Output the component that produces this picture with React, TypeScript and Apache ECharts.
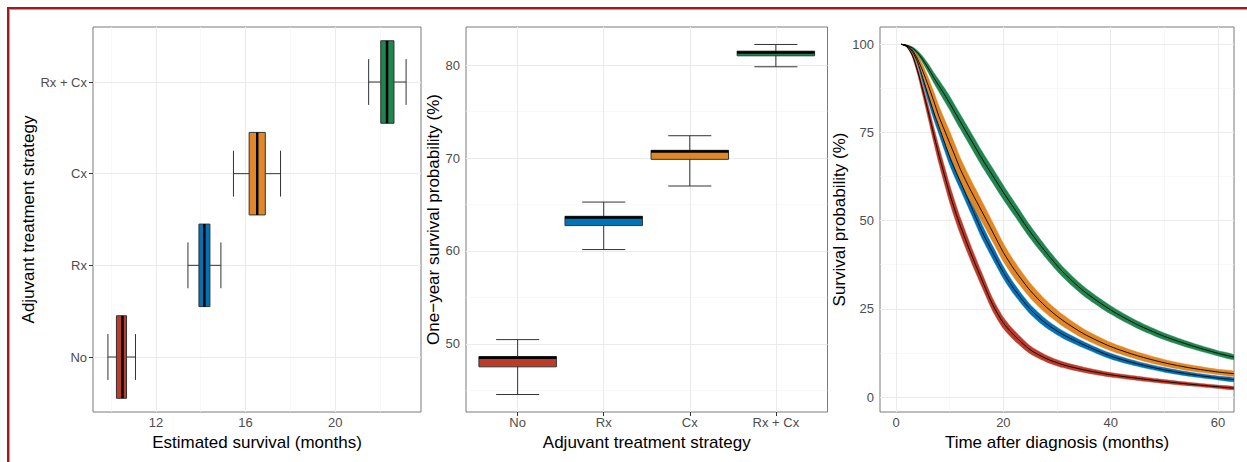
import React, { useEffect, useRef } from "react";
import * as echarts from "echarts";

// ---------- data ----------
const strategies = ["No", "Rx", "Cx", "Rx + Cx"];
const palette = ["#BC3C29", "#0072B5", "#E18727", "#20854E"];

// Estimated survival (months) box summaries
const survMin = [9.86, 13.43, 15.46, 21.49];
const survQ1 = [10.24, 13.92, 16.16, 22.03];
const survMed = [10.51, 14.16, 16.52, 22.31];
const survQ3 = [10.69, 14.41, 16.88, 22.62];
const survMax = [11.09, 14.9, 17.56, 23.16];

// One-year survival probability (%) box summaries
const oneMin = [44.55, 60.15, 66.99, 79.82];
const oneQ1 = [47.53, 62.73, 69.86, 81.0];
const oneMed = [48.5, 63.6, 70.7, 81.35];
const oneQ3 = [48.64, 63.73, 70.83, 81.5];
const oneMax = [50.46, 65.26, 72.4, 82.22];

// Survival curves (%)
const months = [1, 2, 3, 4, 5, 6, 7, 8, 9, 10, 11, 12, 14, 16, 18, 20, 22, 25, 28, 31, 35, 40, 45, 50, 55, 60, 63];
const curveNo = [100, 99.3, 97, 92.5, 86.8, 80.8, 74.5, 68.5, 63, 57.6, 52.8, 48.4, 40.5, 33.2, 26.2, 21, 17.5, 13.4, 10.9, 9.2, 7.7, 6.3, 5.3, 4.4, 3.6, 2.9, 2.5];
const curveRx = [100, 99.5, 98, 95, 90.3, 85.5, 80.8, 76.6, 72.3, 68, 64.4, 61, 54, 47, 41, 35.3, 30.6, 24.9, 20.8, 17.8, 14.8, 11.6, 9.4, 7.7, 6.4, 5.4, 4.9];
const curveCx = [100, 99.6, 98.4, 95.8, 92.3, 88.3, 84, 79.5, 75.7, 72, 68.3, 64.5, 58.3, 52.6, 46.8, 41, 36.2, 30.2, 25.5, 21.8, 17.9, 14.3, 11.7, 9.7, 8.2, 7.1, 6.6];
const curveRxCx = [100, 99.7, 99, 97.6, 95.6, 93.2, 90.6, 88.2, 85.8, 83.3, 80.6, 78, 72.8, 67.6, 62.8, 58, 53.5, 46.8, 40.9, 35.6, 30, 24.7, 20.5, 17.2, 14.6, 12.4, 11.3];
// confidence band widths (% points)
const bandNo = [0, 0.3, 1, 2, 3, 3.9, 4.5, 4.9, 5.1, 5.1, 5, 4.8, 4.4, 4, 3.6, 3.2, 2.8, 2.3, 1.9, 1.7, 1.5, 1.3, 1.2, 1.1, 1, 0.95, 0.9];
const bandRx = [0, 0.3, 1, 1.9, 2.8, 3.5, 4, 4.3, 4.5, 4.6, 4.6, 4.5, 4.3, 4, 3.7, 3.4, 3.1, 2.7, 2.4, 2.1, 1.8, 1.6, 1.4, 1.3, 1.2, 1.1, 1.1];
const bandCx = [0, 0.4, 1.2, 2.4, 3.6, 4.6, 5.4, 6, 6.4, 6.6, 6.6, 6.5, 6.3, 6, 5.6, 5.2, 4.8, 4.2, 3.7, 3.3, 2.8, 2.4, 2.1, 1.9, 1.7, 1.5, 1.4];
const bandRxCx = [0, 0.2, 0.6, 1.2, 1.9, 2.5, 3, 3.4, 3.7, 3.9, 4.1, 4.2, 4.3, 4.3, 4.2, 4.1, 3.9, 3.6, 3.3, 3, 2.7, 2.4, 2.1, 1.9, 1.7, 1.5, 1.4];

// ticks
const survTicks = [12, 16, 20];
const survMinor = [10, 14, 18, 22];
const oneTicks = [50, 60, 70, 80];
const oneMinor = [45, 55, 65, 75];
const timeTicks = [0, 20, 40, 60];
const timeMinor = [10, 30, 50];
const probTicks = [0, 25, 50, 75, 100];
const probMinor = [12.5, 37.5, 62.5, 87.5];
const catPos = [0, 1, 2, 3];

// ---------- helpers ----------
const FONT = "'Liberation Sans', Arial, Helvetica, sans-serif";
const MAJOR = "#ebebeb";
const MINOR = "#f4f4f4";
const SMOOTH = 0.25;

function gridLines(xMajor: number[], xMinor: number[], yMajor: number[], yMinor: number[]) {
  const d: any[] = [];
  xMinor.forEach((v) => d.push({ xAxis: v, lineStyle: { color: MINOR, width: 0.6, type: "solid" } }));
  yMinor.forEach((v) => d.push({ yAxis: v, lineStyle: { color: MINOR, width: 0.6, type: "solid" } }));
  xMajor.forEach((v) => d.push({ xAxis: v, lineStyle: { color: MAJOR, width: 1, type: "solid" } }));
  yMajor.forEach((v) => d.push({ yAxis: v, lineStyle: { color: MAJOR, width: 1, type: "solid" } }));
  return {
    silent: true,
    symbol: ["none", "none"],
    label: { show: false },
    emphasis: { disabled: true },
    z: 1,
    data: d,
  };
}

function valueAxis(idx: number, min: number, max: number, ticks: number[], name: string, nameGap: number, isY: boolean, fmt?: (v: number) => string) {
  return {
    type: "value",
    gridIndex: idx,
    min,
    max,
    axisLine: { show: false },
    axisTick: { show: true, length: 4, customValues: ticks, lineStyle: { color: "#333333", width: 1 } },
    axisLabel: {
      customValues: ticks,
      color: "#4d4d4d",
      fontSize: 13,
      fontFamily: FONT,
      margin: isY ? 6 : 4,
      formatter: fmt,
      showMinLabel: true,
      showMaxLabel: true,
    },
    splitLine: { show: false },
    name,
    nameLocation: "middle",
    nameGap,
    nameRotate: isY ? 90 : 0,
    nameTextStyle: { fontSize: 17, color: "#000000", fontFamily: FONT },
  };
}

const catFmt = (v: number) => strategies[Math.round(v)] ?? "";

function boxRender(horizontal: boolean) {
  return (params: any, api: any) => {
    const c = api.value(0);
    const mn = api.value(1), q1 = api.value(2), md = api.value(3), q3 = api.value(4), mx = api.value(5);
    const color = palette[params.dataIndex];
    const stroke = "#333333";
    if (horizontal) {
      const band = api.size([0, 1])[1];
      const yc = api.coord([md, c])[1];
      const px = (v: number) => api.coord([v, c])[0];
      const hb = band * 0.45, hw = band * 0.25;
      return {
        type: "group",
        children: [
          { type: "line", shape: { x1: px(mn), y1: yc, x2: px(mx), y2: yc }, style: { stroke, lineWidth: 1 } },
          { type: "line", shape: { x1: px(mn), y1: yc - hw, x2: px(mn), y2: yc + hw }, style: { stroke, lineWidth: 1 } },
          { type: "line", shape: { x1: px(mx), y1: yc - hw, x2: px(mx), y2: yc + hw }, style: { stroke, lineWidth: 1 } },
          { type: "rect", shape: { x: px(q1), y: yc - hb, width: px(q3) - px(q1), height: 2 * hb }, style: { fill: color, stroke, lineWidth: 1 } },
          { type: "line", shape: { x1: px(md), y1: yc - hb, x2: px(md), y2: yc + hb }, style: { stroke: "#000000", lineWidth: 2.5 } },
        ],
      };
    }
    const band = api.size([1, 0])[0];
    const xc = api.coord([c, md])[0];
    const py = (v: number) => api.coord([c, v])[1];
    const hb = band * 0.45, hw = band * 0.25;
    return {
      type: "group",
      children: [
        { type: "line", shape: { x1: xc, y1: py(mn), x2: xc, y2: py(mx) }, style: { stroke, lineWidth: 1 } },
        { type: "line", shape: { x1: xc - hw, y1: py(mn), x2: xc + hw, y2: py(mn) }, style: { stroke, lineWidth: 1 } },
        { type: "line", shape: { x1: xc - hw, y1: py(mx), x2: xc + hw, y2: py(mx) }, style: { stroke, lineWidth: 1 } },
        { type: "rect", shape: { x: xc - hb, y: py(q3), width: 2 * hb, height: py(q1) - py(q3) }, style: { fill: color, stroke, lineWidth: 1 } },
        { type: "line", shape: { x1: xc - hb, y1: py(md), x2: xc + hb, y2: py(md) }, style: { stroke: "#000000", lineWidth: 2.5 } },
      ],
    };
  };
}

const curves = [curveNo, curveRx, curveCx, curveRxCx];
const bands = [bandNo, bandRx, bandCx, bandRxCx];

function ribbonRender(params: any, api: any) {
  const i = params.dataIndex;
  const cv = curves[i];
  const bw = bands[i];
  const upper = months.map((t, j) => api.coord([t, cv[j] + bw[j] / 2]));
  const lower = months.map((t, j) => api.coord([t, cv[j] - bw[j] / 2])).reverse();
  return {
    type: "group",
    children: [
      {
        type: "polygon",
        shape: { points: upper.concat(lower), smooth: SMOOTH },
        style: { fill: palette[i], stroke: palette[i], lineWidth: 0.4 },
      },
      {
        type: "polyline",
        shape: { points: months.map((t, j) => api.coord([t, cv[j]])), smooth: SMOOTH },
        style: { stroke: "#000000", lineWidth: 0.9, fill: null },
        z2: 10,
      },
    ],
  };
}

function buildOption() {
  const survData = strategies.map((_, i) => [i, survMin[i], survQ1[i], survMed[i], survQ3[i], survMax[i]]);
  const oneData = strategies.map((_, i) => [i, oneMin[i], oneQ1[i], oneMed[i], oneQ3[i], oneMax[i]]);
  const ribbonData = curves.map((cv) => [months[0], cv[0]]);

  const series: any[] = [
    {
      type: "line", xAxisIndex: 0, yAxisIndex: 0, data: [], silent: true, z: 1,
      markLine: gridLines(survTicks, survMinor, catPos, []),
    },
    {
      type: "line", xAxisIndex: 1, yAxisIndex: 1, data: [], silent: true, z: 1,
      markLine: gridLines(catPos, [], oneTicks, oneMinor),
    },
    {
      type: "line", xAxisIndex: 2, yAxisIndex: 2, data: [], silent: true, z: 1,
      markLine: gridLines(timeTicks, timeMinor, probTicks, probMinor),
    },
    {
      type: "custom", xAxisIndex: 0, yAxisIndex: 0, z: 3, silent: true,
      renderItem: boxRender(true),
      encode: { x: [1, 2, 3, 4, 5], y: 0 },
      data: survData,
    },
    {
      type: "custom", xAxisIndex: 1, yAxisIndex: 1, z: 3, silent: true,
      renderItem: boxRender(false),
      encode: { x: 0, y: [1, 2, 3, 4, 5] },
      data: oneData,
    },
    {
      type: "custom", xAxisIndex: 2, yAxisIndex: 2, z: 2, silent: true, clip: true,
      renderItem: ribbonRender,
      encode: { x: 0, y: 1 },
      data: ribbonData,
    },
  ];

  const gridBase = { show: true, borderColor: "#7a7a7a", borderWidth: 1, backgroundColor: "transparent", containLabel: false };

  return {
    animation: false,
    textStyle: { fontFamily: FONT },
    grid: [
      { ...gridBase, left: 93, top: 27, width: 328, height: 385 },
      { ...gridBase, left: 466, top: 27, width: 361.5, height: 385 },
      { ...gridBase, left: 880, top: 27, width: 354, height: 385 },
    ],
    xAxis: [
      valueAxis(0, 9.195, 23.825, survTicks, "Estimated survival (months)", 12, false),
      valueAxis(1, -0.6, 3.6, catPos, "Adjuvant treatment strategy", 12, false, catFmt),
      valueAxis(2, -3, 63, timeTicks, "Time after diagnosis (months)", 12, false),
    ],
    yAxis: [
      valueAxis(0, -0.6, 3.6, catPos, "Adjuvant treatment strategy", 55, true, catFmt),
      valueAxis(1, 42.67, 84.1, oneTicks, "One\u2212year survival probability (%)", 16, true),
      valueAxis(2, -4.25, 104.9, probTicks, "Survival probability (%)", 20, true),
    ],
    series,
  };
}

export default function App() {
  const ref = useRef<HTMLDivElement>(null);
  useEffect(() => {
    if (!ref.current) return;
    const chart = echarts.init(ref.current, null, { renderer: "svg" });
    chart.setOption(buildOption() as any);
    return () => chart.dispose();
  }, []);
  return (
    <div style={{ position: "fixed", left: 0, top: 0, width: "100vw", height: "100vh", overflow: "hidden", background: "#ffffff" }}>
      <div style={{ position: "absolute", left: 7, top: 7, width: 2000, height: 2000, borderTop: "2px solid #a01a20", borderLeft: "2px solid #a01a20" }} />
      <div style={{ position: "absolute", left: 9, top: 9, width: 2000, height: 2000, borderTop: "1px solid #d98a8d", borderLeft: "1px solid #d98a8d" }} />
      <div ref={ref} style={{ position: "absolute", left: 0, top: 0, width: 1247, height: 462 }} />
    </div>
  );
}
